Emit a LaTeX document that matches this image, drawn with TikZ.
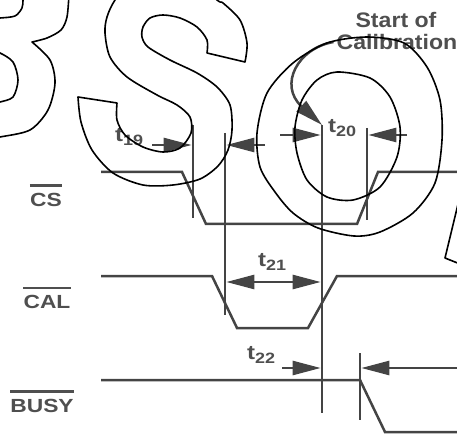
\documentclass[tikz,border=0pt]{standalone}
\usepackage{fontspec}
\setmainfont{Liberation Sans}
\newfontfamily\labfont{Liberation Sans}[FakeStretch=1.2]
\newfontfamily\capfont{Liberation Sans}[FakeStretch=1.1]
\usetikzlibrary{arrows.meta}
\definecolor{sig}{HTML}{444444}
\definecolor{txt}{HTML}{4F4F4F}
\newcommand\tsb[1]{t\raisebox{-4pt}{\fontsize{15}{15}\selectfont #1}}
\begin{document}
\begin{tikzpicture}[x=1pt,y=-1pt,
  sigline/.style={draw=sig, line width=2.5pt, line join=miter},
  marker/.style={draw=sig, line width=2.5pt},
  arr/.style={draw=sig, line width=2.5pt, -{Triangle[length=28pt 0 0,width=14pt 0 0]}},
  darr/.style={draw=sig, line width=2.5pt, {Triangle[length=28pt 0 0,width=14pt 0 0]}-{Triangle[length=28pt 0 0,width=14pt 0 0]}},
  sigtext/.style={text=txt, font=\labfont\bfseries\fontsize{19}{19}\selectfont, inner sep=0pt},
  tlabel/.style={text=txt, font=\labfont\bfseries\fontsize{20}{20}\selectfont, inner sep=0pt, anchor=base west},
  captext/.style={text=txt, font=\capfont\bfseries\fontsize{21}{21}\selectfont, inner sep=0pt},
  ovl/.style={draw=txt, line width=2.2pt},
  wm/.style={draw=black, line width=1.6pt, line join=round}]
\useasboundingbox (0,0) rectangle (457,435);
% signal labels
\node[sigtext] (cs) at (46,199.5) {CS};
\node[sigtext] (cal) at (47,302) {CAL};
\node[sigtext] (busy) at (42,405.5) {BUSY};
\draw[ovl] ([yshift=7pt]cs.north west) -- ([yshift=7pt]cs.north east);
\draw[ovl] ([yshift=7pt]cal.north west) -- ([yshift=7pt]cal.north east);
\draw[ovl] ([yshift=7pt]busy.north west) -- ([yshift=7pt]busy.north east);
% CS waveform
\coordinate (cs0) at (101,172);
\coordinate (cs1) at (182,172);
\coordinate (cs2) at (206,224);
\coordinate (cs3) at (357,224);
\coordinate (cs4) at (378,172);
\coordinate (cs5) at (458,172);
\draw[sigline] (cs0) -- (cs1) -- (cs2) -- (cs3) -- (cs4) -- (cs5);
% CAL waveform
\coordinate (ca0) at (101,276);
\coordinate (ca1) at (212,276);
\coordinate (ca2) at (237,328);
\coordinate (ca3) at (308,328);
\coordinate (ca4) at (337,276);
\coordinate (ca5) at (458,276);
\draw[sigline] (ca0) -- (ca1) -- (ca2) -- (ca3) -- (ca4) -- (ca5);
% BUSY waveform
\coordinate (bu0) at (101,380);
\coordinate (bu1) at (360,380);
\coordinate (bu2) at (385,432);
\coordinate (bu3) at (458,432);
\draw[sigline] (bu0) -- (bu1) -- (bu2) -- (bu3);
% vertical markers
\coordinate (v1a) at (193,125); \coordinate (v1b) at (193,218);
\coordinate (v2a) at (225,133); \coordinate (v2b) at (225,315);
\coordinate (v3a) at (322,125); \coordinate (v3b) at (322,413);
\coordinate (v4a) at (367,128); \coordinate (v4b) at (367,220);
\coordinate (v5a) at (360,353); \coordinate (v5b) at (360,420);
\draw[marker] (v1a) -- (v1b);
\draw[marker] (v2a) -- (v2b);
\draw[marker] (v3a) -- (v3b);
\draw[marker] (v4a) -- (v4b);
\draw[marker] (v5a) -- (v5b);
% t19
\coordinate (a19l) at (152,145); \coordinate (a19r) at (191.7,145);
\coordinate (b19r) at (265,145); \coordinate (b19l) at (226.3,145);
\draw[arr] (a19l) -- (a19r);
\draw[arr] (b19r) -- (b19l);
\node[tlabel] (t19) at (115,142) {\tsb{19}};
% t20
\coordinate (a20l) at (280,135); \coordinate (a20r) at (320.7,135);
\coordinate (b20r) at (407,135); \coordinate (b20l) at (368.3,135);
\draw[arr] (a20l) -- (a20r);
\draw[arr] (b20r) -- (b20l);
\node[tlabel] (t20) at (328,133) {\tsb{20}};
% t21
\coordinate (a21l) at (226.3,282); \coordinate (a21r) at (320.7,282);
\draw[darr] (a21l) -- (a21r);
\node[tlabel] (t21) at (258,266) {\tsb{21}};
% t22
\coordinate (a22l) at (282,368); \coordinate (a22r) at (320.7,368);
\coordinate (b22r) at (458,368); \coordinate (b22l) at (361.3,368);
\draw[arr] (a22l) -- (a22r);
\draw[arr] (b22r) -- (b22l);
\node[tlabel] (t22) at (247,359) {\tsb{22}};
% Start of Calibration
\node[captext] (soc1) at (396,20) {Start of};
\node[captext] (soc2) at (397,42) {Calibration};
\draw[arr] ([xshift=-3pt]soc2.west) .. controls (298,48) and (278,85) .. (v3a);
% watermark outlines
\begin{scope}
\clip (0,0) rectangle (457,435);
% right half of B
\draw[wm] plot[smooth] coordinates {(69,-6) (67,17) (61,30) (47,38) (32,42)}
  -- plot[smooth] coordinates {(32,42) (50,60) (55,83) (48,110) (30,130) (0,137) (-6,138)};
\draw[wm] plot[smooth] coordinates {(-6,18) (0,18) (15,16) (22,8) (23,0) (23,-6)};
\draw[wm] plot[smooth] coordinates {(-6,53) (0,53) (13,62) (18,80) (13,97) (0,102) (-6,103)};
% S
\draw[wm] plot[smooth] coordinates {(207,53) (207,40) (197,27) (180,18) (163,15) (150,18) (143,27) (142,37) (148,47) (170,60) (197,73) (217,87) (230,105) (232,130) (228,150) (218,166) (200,179) (173,185) (143,185) (113,173) (92,150) (81,122) (78,97)}
  -- plot[smooth] coordinates {(117,103) (117,120) (125,135) (143,147) (163,152) (180,148) (191,133) (190,117) (177,105) (157,95) (127,77) (110,57) (105,33) (107,17) (115,0) (135,-25) (180,-30) (217,0) (223,3) (240,20) (247,43) (245,62)}
  -- cycle;
% O
\draw[wm] plot[smooth cycle] coordinates {(327,43) (367,37) (404,43) (427,67) (440,100) (442,140) (435,183) (413,213) (380,232) (354,236) (318,228) (293,213) (275,192) (260,167) (257,133) (267,93) (293,63)};
\draw[wm] plot[smooth cycle] coordinates {(337,72) (370,78) (390,97) (400,127) (397,157) (380,187) (353,200) (327,197) (307,180) (297,153) (295,127) (302,100) (317,80)};
% L fragment
\draw[wm] (459,200) -- (445,258) -- (460,264);
\end{scope}
\end{tikzpicture}
\end{document}
